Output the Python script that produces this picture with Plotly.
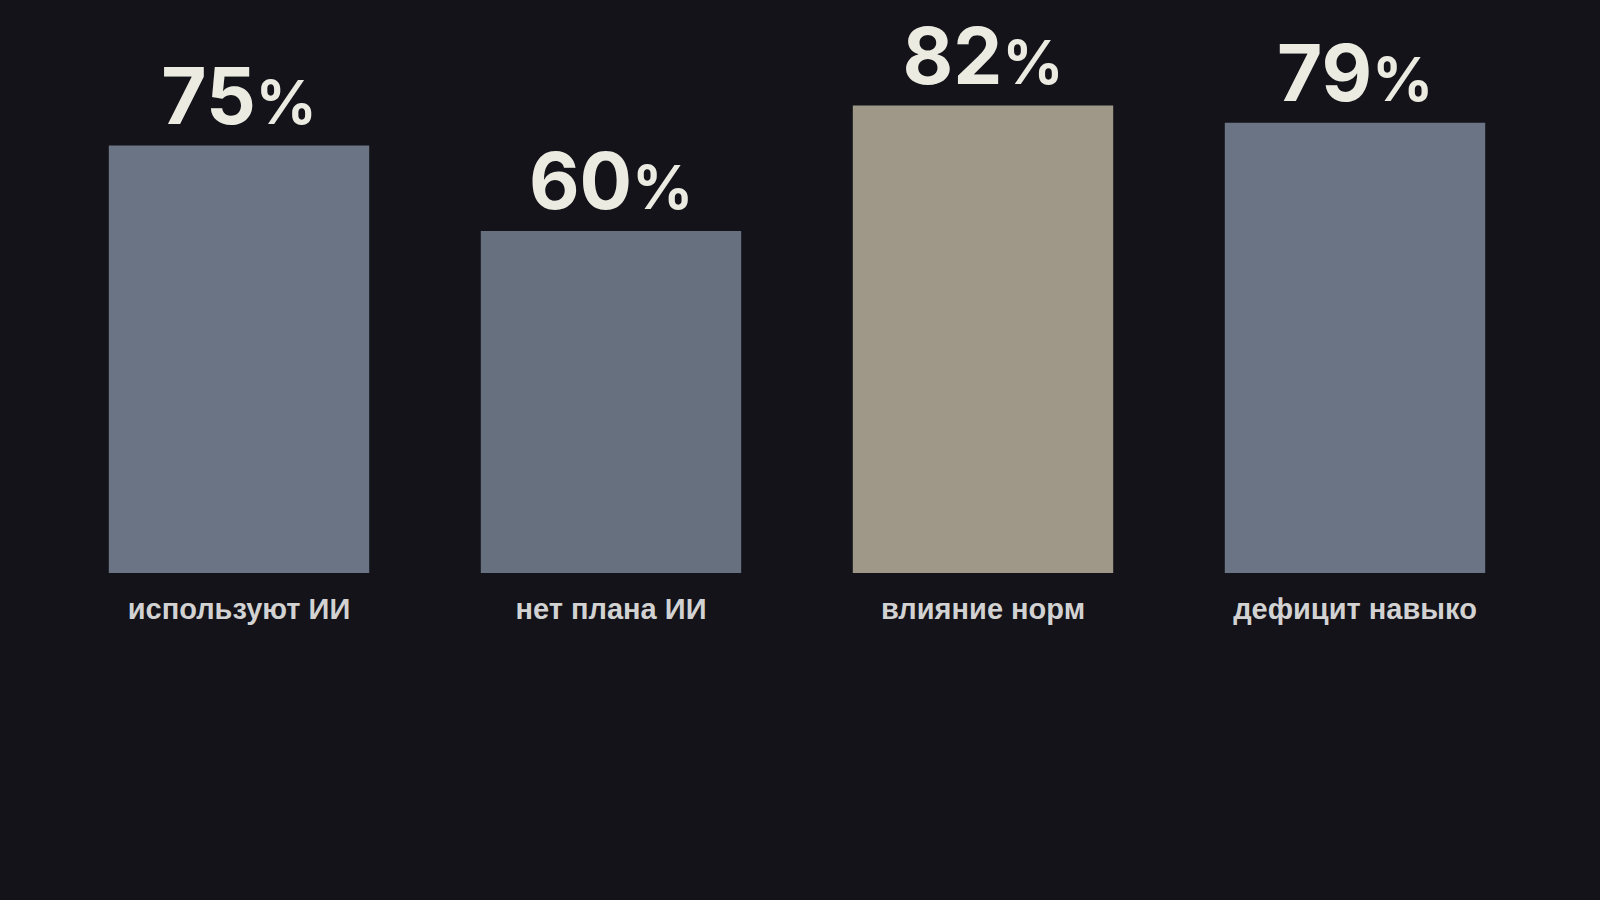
import plotly.graph_objects as go

# values
categories = ["используют ИИ", "нет плана ИИ", "влияние норм", "дефицит навыко"]
values = [75, 60, 82, 79]
bar_colors = ["#6a7484", "#66707f", "#9f9888", "#6a7484"]

labels = [f"{v}<span style='font-size:60px'>%</span>" for v in values]

fig = go.Figure(go.Bar(
    x=categories,
    y=values,
    marker=dict(color=bar_colors, line=dict(width=0)),
    text=labels,
    texttemplate="%{text}",
    textposition="outside",
    cliponaxis=False,
    textfont=dict(family="Inter, Lato, sans-serif", size=78, color="#ecebe2", weight=700),
    hoverinfo="skip",
))

fig.update_layout(
    width=1600,
    height=900,
    paper_bgcolor="#131319",
    plot_bgcolor="#131319",
    showlegend=False,
    bargap=0.30,
    margin=dict(l=53, r=59, t=3, b=327),
    xaxis=dict(
        showgrid=False, zeroline=False, showline=False, ticks="",
        tickfont=dict(family="Liberation Sans, Arial, sans-serif", size=29, color="#d2d2d2", weight=700),
        ticklabelstandoff=16,
    ),
    yaxis=dict(range=[0, 100], visible=False, showgrid=False, zeroline=False),
)

fig.write_html(
    "out.html",
    config={"displayModeBar": False},
    post_script="document.body.style.margin='0';document.body.style.background='#131319';",
)
